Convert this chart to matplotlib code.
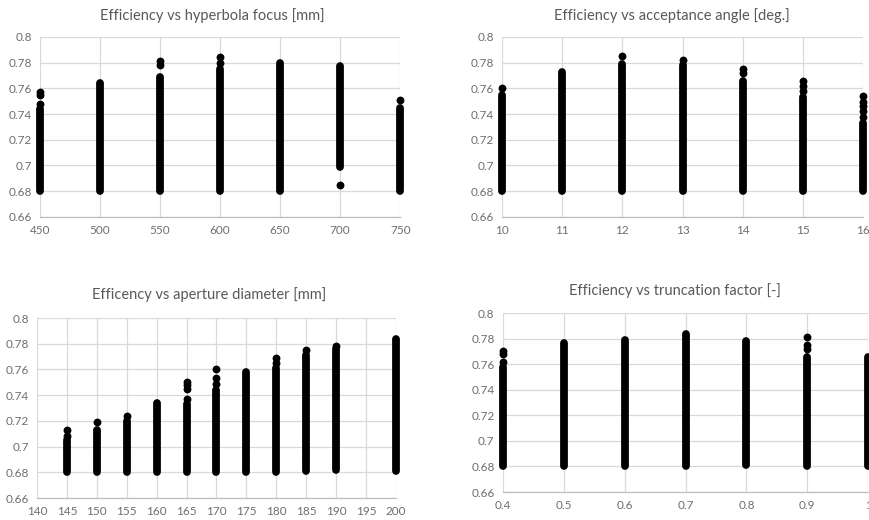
import matplotlib
matplotlib.use("Agg")
import matplotlib.pyplot as plt
from matplotlib.ticker import MultipleLocator, FuncFormatter

# Colours (Excel default look)
cor_texto = '#595959'
cor_grade = '#d9d9d9'
cor_eixo = '#bfbfbf'
cor_ponto = '#000000'

# --- Data: each column = dense band (lo..hi) + isolated points ---
# Efficiency vs hyperbola focus [mm]
focus_x = [450, 500, 550, 600, 650, 700, 750]
focus_lo = [0.680, 0.680, 0.680, 0.680, 0.680, 0.699, 0.680]
focus_hi = [0.744, 0.764, 0.769, 0.775, 0.780, 0.777, 0.745]
focus_pts_x = [450, 450, 450, 550, 550, 600, 600, 700, 750]
focus_pts_y = [0.748, 0.755, 0.757, 0.778, 0.781, 0.780, 0.784, 0.685, 0.751]

# Efficiency vs acceptance angle [deg.]
angle_x = [10, 11, 12, 13, 14, 15, 16]
angle_lo = [0.680, 0.680, 0.680, 0.680, 0.680, 0.680, 0.680]
angle_hi = [0.755, 0.773, 0.779, 0.778, 0.766, 0.753, 0.733]
angle_pts_x = [10, 12, 13, 14, 14, 15, 15, 15, 16, 16, 16, 16, 16]
angle_pts_y = [0.760, 0.785, 0.782, 0.772, 0.775, 0.758, 0.762, 0.766,
               0.738, 0.742, 0.746, 0.749, 0.754]

# Efficency vs aperture diameter [mm]
aper_x = [145, 150, 155, 160, 165, 170, 175, 180, 185, 190, 200]
aper_lo = [0.680, 0.680, 0.680, 0.680, 0.680, 0.680, 0.680, 0.680, 0.681, 0.682, 0.681]
aper_hi = [0.705, 0.713, 0.720, 0.734, 0.733, 0.744, 0.758, 0.761, 0.771, 0.776, 0.784]
aper_pts_x = [145, 145, 150, 155, 165, 165, 165, 165, 170, 170, 170, 180, 180, 185, 190]
aper_pts_y = [0.708, 0.713, 0.719, 0.724, 0.737, 0.745, 0.748, 0.750,
              0.749, 0.753, 0.760, 0.765, 0.769, 0.775, 0.778]

# Efficiency vs truncation factor [-]
trunc_x = [0.4, 0.5, 0.6, 0.7, 0.8, 0.9, 1.0]
trunc_lo = [0.680, 0.680, 0.680, 0.680, 0.681, 0.680, 0.680]
trunc_hi = [0.758, 0.777, 0.779, 0.784, 0.778, 0.766, 0.766]
trunc_pts_x = [0.4, 0.4, 0.4, 0.9, 0.9, 0.9]
trunc_pts_y = [0.762, 0.768, 0.770, 0.772, 0.775, 0.781]

plt.rcParams['font.family'] = ['Lato', 'DejaVu Sans']

fig = plt.figure(figsize=(8.7, 5.2), dpi=100)
fig.patch.set_facecolor('white')

paineis = [
    # rect, title pos, title, x, lo, hi, px, py, xlim, xstep
    ([0.046, 0.583, 0.414, 0.346], (0.244, 0.971), 'Efficiency vs hyperbola focus [mm]',
     focus_x, focus_lo, focus_hi, focus_pts_x, focus_pts_y, (450, 750), 50),
    ([0.577, 0.583, 0.415, 0.346], (0.772, 0.971), 'Efficiency vs acceptance angle [deg.]',
     angle_x, angle_lo, angle_hi, angle_pts_x, angle_pts_y, (10, 16), 1),
    ([0.0425, 0.0423, 0.4125, 0.346], (0.240, 0.433), 'Efficency vs aperture diameter [mm]',
     aper_x, aper_lo, aper_hi, aper_pts_x, aper_pts_y, (140, 200), 5),
    ([0.578, 0.0538, 0.420, 0.344], (0.776, 0.442), 'Efficiency vs truncation factor [-]',
     trunc_x, trunc_lo, trunc_hi, trunc_pts_x, trunc_pts_y, (0.4, 1.0), 0.1),
]

fmt = FuncFormatter(lambda v, _: f'{round(v, 4):g}')

for rect, tpos, titulo, xs, lo, hi, px, py, xlim, xstep in paineis:
    ax = fig.add_axes(rect)
    # dense bands drawn as thick round-capped vertical lines
    lc = ax.vlines(xs, lo, hi, colors=cor_ponto, linewidth=5.6, zorder=3)
    lc.set_capstyle('round')
    lc.set_clip_on(False)
    ax.scatter(px, py, s=32, color=cor_ponto, zorder=3, clip_on=False, linewidths=0)

    ax.set_xlim(*xlim)
    ax.set_ylim(0.66, 0.8)
    ax.xaxis.set_major_locator(MultipleLocator(xstep))
    ax.yaxis.set_major_locator(MultipleLocator(0.02))
    ax.xaxis.set_major_formatter(fmt)
    ax.yaxis.set_major_formatter(fmt)
    ax.grid(True, color=cor_grade, linewidth=0.9, zorder=0)
    ax.set_axisbelow(True)
    for lado in ['top', 'right', 'left']:
        ax.spines[lado].set_visible(False)
    ax.spines['bottom'].set_color(cor_eixo)
    ax.spines['bottom'].set_linewidth(0.9)
    ax.tick_params(length=0, labelsize=8.5, colors='#6e6e6e', pad=6)

    fig.text(tpos[0], tpos[1], titulo, ha='center', va='center',
             fontsize=10.5, color=cor_texto)

fig.savefig('out.png', dpi=100, facecolor='white')
